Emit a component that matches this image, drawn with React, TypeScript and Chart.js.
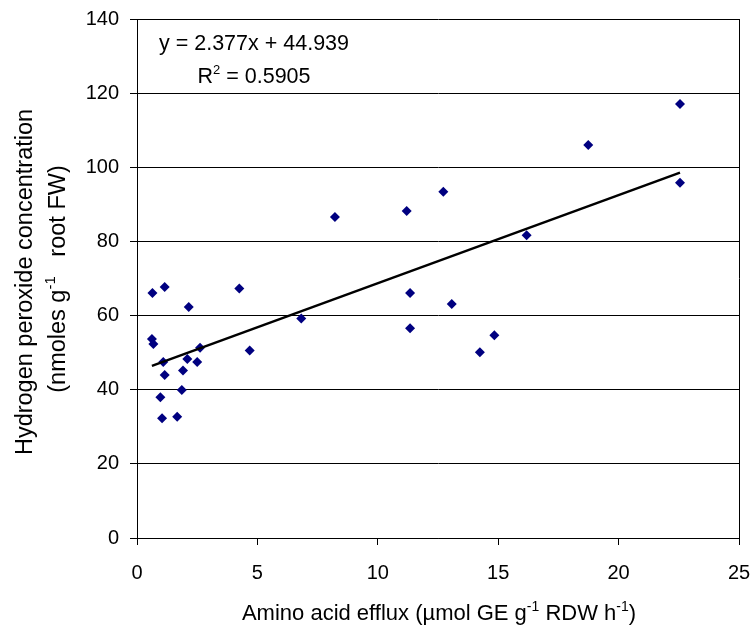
import React, { useEffect, useRef } from 'react';
import { Chart, registerables } from 'chart.js';

Chart.register(...registerables);

// Amino acid efflux (µmol GE g-1 RDW h-1)
const effluxX = [
  0.64, 1.15, 4.25, 2.15, 0.62, 0.68, 2.62, 4.68, 1.09, 2.09,
  2.5, 1.15, 1.91, 1.86, 0.97, 1.04, 1.67, 8.22, 11.2, 12.72,
  6.82, 11.34, 13.07, 11.34, 14.84, 14.24, 22.55, 18.74, 22.55, 16.18,
];
// Hydrogen peroxide concentration (nmoles g-1 root FW)
const peroxideY = [
  66.1, 67.7, 67.3, 62.3, 53.7, 52.3, 51.3, 50.6, 47.5, 48.3,
  47.5, 44.0, 45.2, 39.9, 38.0, 32.3, 32.7, 86.6, 88.2, 93.4,
  59.2, 66.1, 63.1, 56.6, 54.7, 50.1, 117.1, 106.0, 95.8, 81.7,
];
const trendSlope = 2.377;
const trendIntercept = 44.939;
const rSquared = '0.5905';
const xTicks = [0, 5, 10, 15, 20, 25];
const yTicks = [0, 20, 40, 60, 80, 100, 120, 140];

const FONT = '"Liberation Sans", Arial, sans-serif';

type Seg = { t: string; sup?: boolean };

function drawRich(ctx: CanvasRenderingContext2D, segs: Seg[], x: number, y: number, size: number) {
  const supSize = Math.round(size * 0.62);
  let total = 0;
  const widths = segs.map((s) => {
    ctx.font = `${s.sup ? supSize : size}px ${FONT}`;
    const w = ctx.measureText(s.t).width;
    total += w;
    return w;
  });
  let cx = x - total / 2;
  ctx.textBaseline = 'alphabetic';
  ctx.textAlign = 'left';
  segs.forEach((s, i) => {
    ctx.font = `${s.sup ? supSize : size}px ${FONT}`;
    ctx.fillText(s.t, cx, s.sup ? y - size * 0.42 : y);
    cx += widths[i];
  });
}

const textPlugin = {
  id: 'richText',
  afterDraw(chart: any) {
    const ctx: CanvasRenderingContext2D = chart.ctx;
    const ca = chart.chartArea;
    ctx.save();
    // right border of plot
    ctx.strokeStyle = '#000';
    ctx.lineWidth = 1;
    ctx.beginPath();
    ctx.moveTo(Math.round(ca.right) + 0.5, ca.top);
    ctx.lineTo(Math.round(ca.right) + 0.5, ca.bottom);
    ctx.stroke();

    ctx.fillStyle = '#000';
    // equation
    drawRich(ctx, [{ t: `y = ${trendSlope}x + ${trendIntercept}` }], 254, 50, 21.5);
    drawRich(ctx, [{ t: 'R' }, { t: '2', sup: true }, { t: ` = ${rSquared}` }], 254, 83, 21.5);
    // x title
    drawRich(
      ctx,
      [
        { t: 'Amino acid efflux (\u00b5mol GE g' },
        { t: '-1', sup: true },
        { t: ' RDW h' },
        { t: '-1', sup: true },
        { t: ')' },
      ],
      439,
      620,
      22
    );
    // y title
    ctx.save();
    ctx.translate(32, 282);
    ctx.rotate(-Math.PI / 2);
    drawRich(ctx, [{ t: 'Hydrogen peroxide concentration' }], 0, 0, 23.5);
    ctx.restore();
    ctx.save();
    ctx.translate(65, 279);
    ctx.rotate(-Math.PI / 2);
    drawRich(
      ctx,
      [{ t: '(nmoles g' }, { t: '-1', sup: true }, { t: '   root FW)' }],
      0,
      0,
      23.5
    );
    ctx.restore();
    ctx.restore();
  },
};

export default function App() {
  const ref = useRef<HTMLCanvasElement | null>(null);
  useEffect(() => {
    if (!ref.current) return;
    const points = effluxX.map((x, i) => ({ x, y: peroxideY[i] }));
    const xMin = Math.min(...effluxX);
    const xMax = Math.max(...effluxX);
    const trend = [
      { x: xMin, y: trendSlope * xMin + trendIntercept },
      { x: xMax, y: trendSlope * xMax + trendIntercept },
    ];
    const chart = new Chart(ref.current, {
      type: 'scatter',
      data: {
        datasets: [
          {
            type: 'line',
            data: trend,
            borderColor: '#000',
            borderWidth: 2.5,
            pointRadius: 0,
            fill: false,
          } as any,
          {
            data: points,
            pointStyle: 'rectRot',
            pointRadius: 5,
            backgroundColor: '#000080',
            borderColor: '#000080',
            borderWidth: 0,
          },
        ],
      },
      options: {
        animation: false,
        responsive: true,
        maintainAspectRatio: false,
        layout: { padding: { top: 19, right: 17, left: 0, bottom: 0 } },
        plugins: { legend: { display: false }, tooltip: { enabled: false } },
        scales: {
          x: {
            type: 'linear',
            min: 0,
            max: 25,
            afterBuildTicks: (s: any) => {
              s.ticks = xTicks.map((v) => ({ value: v }));
            },
            afterFit: (s: any) => {
              s.height = 95;
              s.paddingLeft = 0;
              s.paddingRight = 0;
            },
            grid: { drawOnChartArea: false, drawTicks: true, tickLength: 7, color: '#000' },
            border: { display: true, color: '#000', width: 1 },
            ticks: { color: '#000', font: { family: FONT, size: 20 }, padding: 16, maxRotation: 0 },
          },
          y: {
            type: 'linear',
            min: 0,
            max: 140,
            afterBuildTicks: (s: any) => {
              s.ticks = yTicks.map((v) => ({ value: v }));
            },
            afterFit: (s: any) => {
              s.width = 137;
              s.paddingTop = 0;
              s.paddingBottom = 0;
            },
            grid: { color: '#000', lineWidth: 1, tickLength: 7 },
            border: { display: true, color: '#000', width: 1 },
            ticks: { color: '#000', font: { family: FONT, size: 20 }, padding: 11 },
          },
        },
      },
      plugins: [textPlugin],
    });
    return () => chart.destroy();
  }, []);
  return (
    <div style={{ position: 'fixed', left: 0, top: 0, width: 756, height: 633, background: '#fff' }}>
      <canvas ref={ref} />
    </div>
  );
}
